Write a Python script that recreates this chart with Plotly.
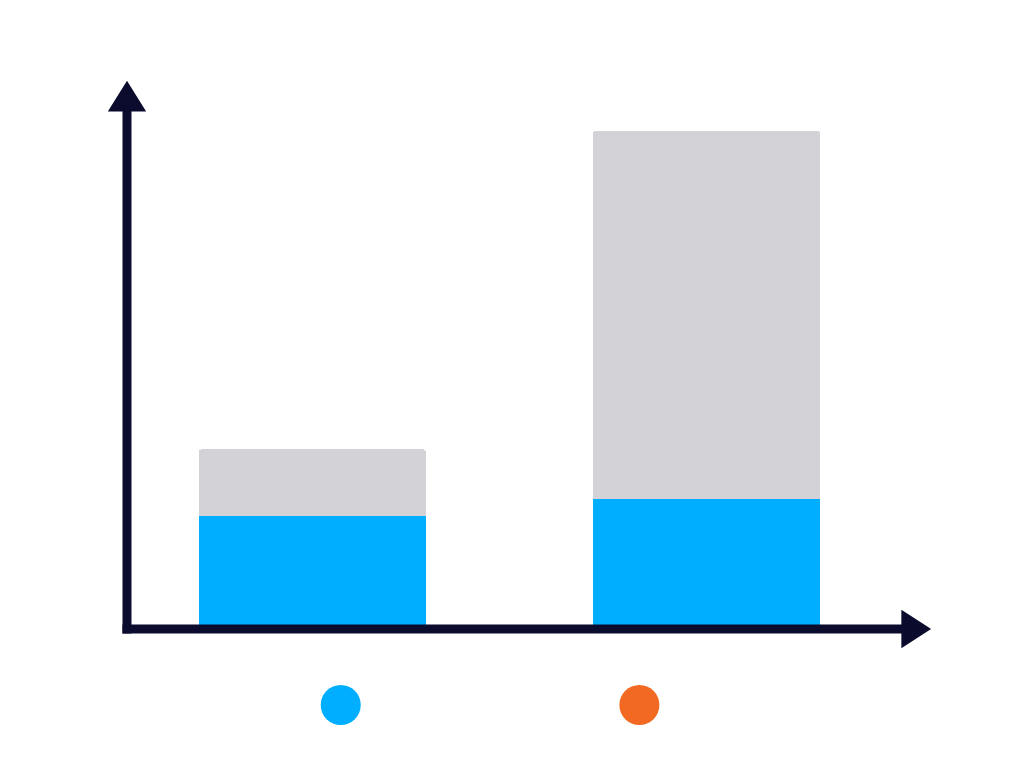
import plotly.graph_objects as go

# Two stacked bars: blue part on the bottom, grey remainder on top
positions = [0, 1]
blue_part = [21.8, 25.1]
grey_part = [13.3, 73.7]

# Marker dots under the chart
dot_x = [0.072, 0.83]
dot_y = [-16.1, -16.1]
dot_colors = ["#00AEFF", "#F26A21"]

NAVY = "#0B0B2E"
BLUE = "#00AEFF"
GREY = "#D3D2D6"

fig = go.Figure()

fig.add_trace(go.Bar(
    x=positions, y=blue_part, width=0.577,
    marker=dict(color=BLUE, line=dict(width=0)),
    hoverinfo="skip", showlegend=False,
))
fig.add_trace(go.Bar(
    x=positions, y=grey_part, width=0.577,
    marker=dict(color=GREY, line=dict(width=0)),
    hoverinfo="skip", showlegend=False,
))

fig.add_trace(go.Scatter(
    x=dot_x, y=dot_y, mode="markers",
    marker=dict(size=40, color=dot_colors, line=dict(width=0)),
    hoverinfo="skip", showlegend=False,
))

# hand drawn axes with arrow heads (data units)
fig.add_shape(type="line", x0=-0.4705, x1=-0.4705, y0=-1.8, y1=103.5,
              line=dict(color=NAVY, width=9), layer="above")
fig.add_shape(type="line", x0=-0.482, x1=1.50, y0=-0.9, y1=-0.9,
              line=dict(color=NAVY, width=9), layer="above")
fig.add_shape(type="path", path="M -0.4705 108.0 L -0.510 103.0 L -0.431 103.0 Z",
              fillcolor=NAVY, line=dict(color=NAVY, width=4), layer="above")
fig.add_shape(type="path", path="M 1.561 -0.9 L 1.500 2.2 L 1.500 -4.0 Z",
              fillcolor=NAVY, line=dict(color=NAVY, width=4), layer="above")

fig.update_layout(
    width=1024, height=768,
    margin=dict(l=0, r=0, t=0, b=0),
    barmode="stack",
    barcornerradius=4,
    paper_bgcolor="white",
    plot_bgcolor="white",
    xaxis=dict(range=[-0.7928, 1.8062], visible=False, fixedrange=True),
    yaxis=dict(range=[-28.7, 124.9], visible=False, fixedrange=True),
)

# drop the default page margin so the figure sits at 0,0
fig.write_html("out.html", config={"displayModeBar": False},
               post_script="document.body.style.margin='0';")
